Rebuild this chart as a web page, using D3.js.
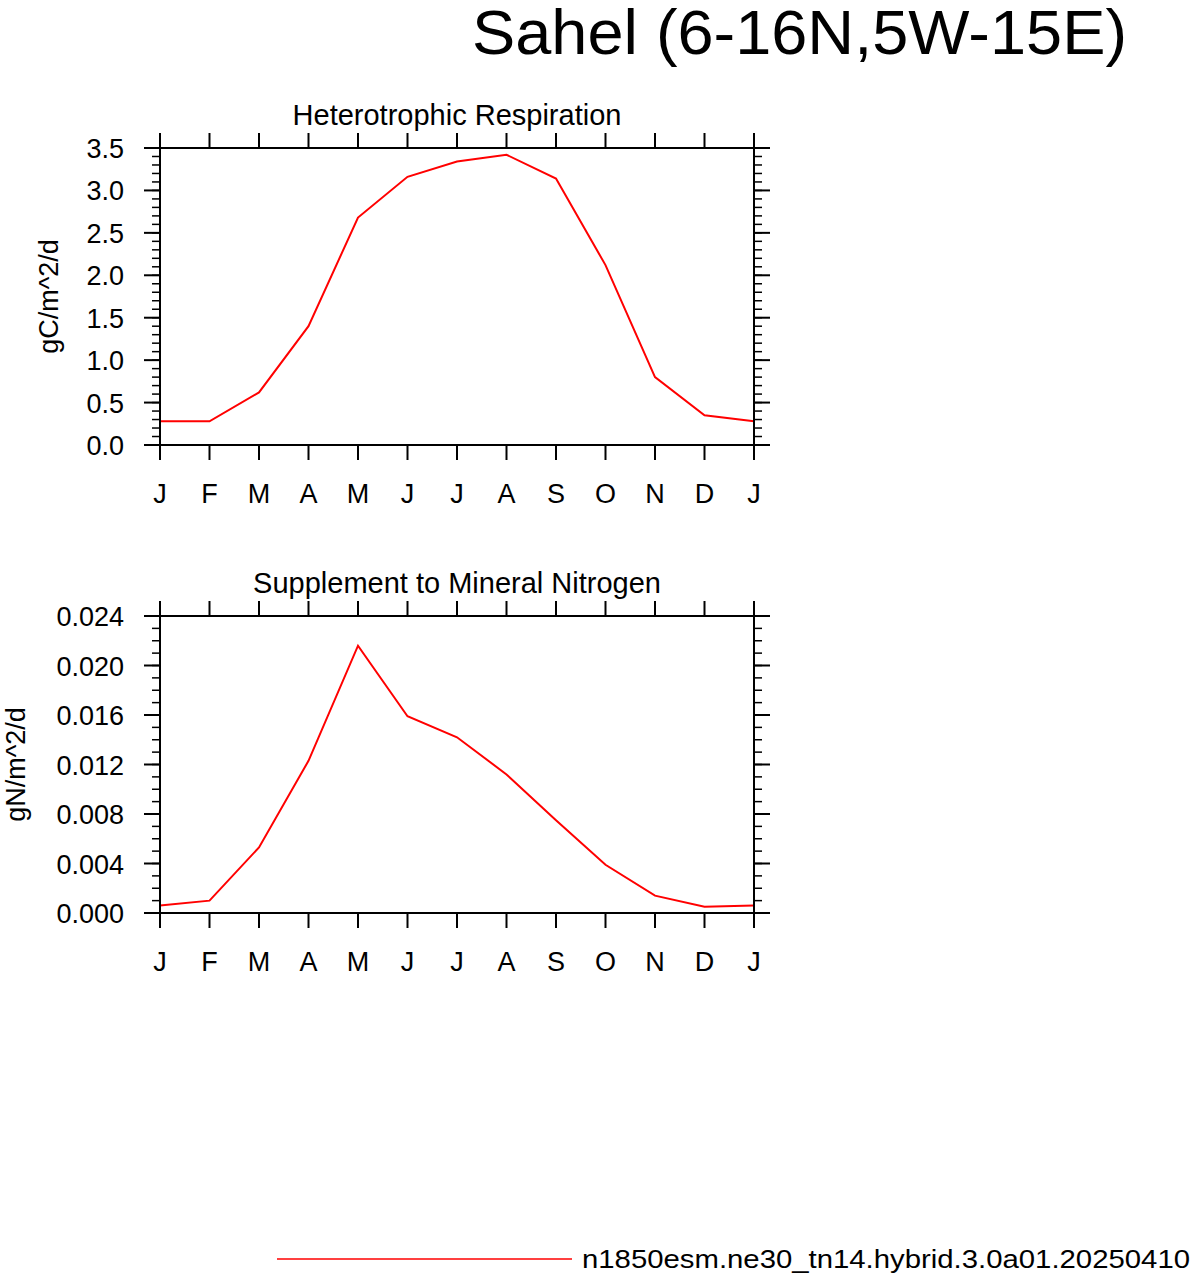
<!DOCTYPE html>
<html><head><meta charset="utf-8">
<script src="https://cdn.jsdelivr.net/npm/d3@7"></script>
<style>body{margin:0;background:#fff}text{font-family:Helvetica,"Liberation Sans",Arial,sans-serif}</style>
</head><body><svg width="1193" height="1275"></svg>
<script>
const months = ['J','F','M','A','M','J','J','A','S','O','N','D','J'];
const hrValues = [0.28,0.28,0.62,1.40,2.68,3.16,3.34,3.42,3.14,2.12,0.80,0.35,0.28];
const snValues = [0.0006,0.0010,0.0053,0.0123,0.0216,0.0159,0.0142,0.0112,0.0075,0.0039,0.0014,0.0005,0.0006];
const hrTicks = [0,0.5,1,1.5,2,2.5,3,3.5];
const snTicks = [0,0.004,0.008,0.012,0.016,0.020,0.024];
const caseName = 'n1850esm.ne30_tn14.hybrid.3.0a01.20250410';

const svg = d3.select('svg');
svg.append('text').attr('x',1127).attr('y',54).attr('text-anchor','end')
  .attr('font-size',63).attr('textLength',655).attr('lengthAdjust','spacingAndGlyphs')
  .text('Sahel (6-16N,5W-15E)');

const x = d3.scaleLinear().domain([0,12]).range([160,754]);

const drawPanel = (props) => {
  const {top, bottom, max, ticks, minorStep, fmt, values, title, ylabel} = props;
  const y = d3.scaleLinear().domain([0,max]).range([bottom,top]);
  const g = svg.append('g');
  const minor = d3.range(0, max + minorStep/2, minorStep);
  // y ticks both sides, outward
  minor.forEach(v => {
    g.append('line').attr('x1',152).attr('x2',160).attr('y1',y(v)).attr('y2',y(v)).attr('stroke','#000').attr('stroke-width',1.5);
    g.append('line').attr('x1',754).attr('x2',762).attr('y1',y(v)).attr('y2',y(v)).attr('stroke','#000').attr('stroke-width',1.5);
  });
  ticks.forEach(v => {
    g.append('line').attr('x1',144).attr('x2',160).attr('y1',y(v)).attr('y2',y(v)).attr('stroke','#000').attr('stroke-width',2);
    g.append('line').attr('x1',754).attr('x2',770).attr('y1',y(v)).attr('y2',y(v)).attr('stroke','#000').attr('stroke-width',2);
    g.append('text').attr('x',124).attr('y',y(v)+10).attr('text-anchor','end').attr('font-size',27).text(fmt(v));
  });
  months.forEach((m,i) => {
    g.append('line').attr('x1',x(i)).attr('x2',x(i)).attr('y1',top-15).attr('y2',top).attr('stroke','#000').attr('stroke-width',2);
    g.append('line').attr('x1',x(i)).attr('x2',x(i)).attr('y1',bottom).attr('y2',bottom+15).attr('stroke','#000').attr('stroke-width',2);
    g.append('text').attr('x',x(i)).attr('y',bottom+58).attr('text-anchor','middle').attr('font-size',27).text(m);
  });
  g.append('path').attr('d', d3.line().x((d,i)=>x(i)).y(d=>y(d))(values))
    .attr('fill','none').attr('stroke','#ff0000').attr('stroke-width',2);
  g.append('rect').attr('x',160).attr('y',top).attr('width',594).attr('height',bottom-top)
    .attr('fill','none').attr('stroke','#000').attr('stroke-width',2);
  g.append('text').attr('x',457).attr('y',top-23).attr('text-anchor','middle').attr('font-size',29).text(title);
  g.append('text').attr('transform',`translate(${props.ylx},${(top+bottom)/2}) rotate(-90)`)
    .attr('text-anchor','middle').attr('font-size',27).text(ylabel);
};

drawPanel({top:148,bottom:445,max:3.5,ticks:hrTicks,minorStep:0.1,fmt:d3.format('.1f'),
  values:hrValues,title:'Heterotrophic Respiration',ylabel:'gC/m^2/d',ylx:58});
drawPanel({top:616,bottom:913,max:0.024,ticks:snTicks,minorStep:0.001,fmt:d3.format('.3f'),
  values:snValues,title:'Supplement to Mineral Nitrogen',ylabel:'gN/m^2/d',ylx:25});

svg.append('line').attr('x1',277).attr('x2',572).attr('y1',1259).attr('y2',1259).attr('stroke','#ff0000').attr('stroke-width',1.5);
svg.append('text').attr('x',582).attr('y',1268).attr('font-size',26)
  .attr('textLength',608).attr('lengthAdjust','spacingAndGlyphs').text(caseName);
</script></body></html>
